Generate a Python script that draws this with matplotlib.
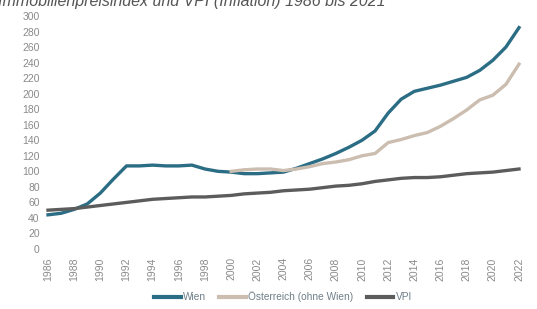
import numpy as np
import matplotlib
matplotlib.use("Agg")
import matplotlib.pyplot as plt

years = np.arange(1986, 2023)

wien = [44, 46, 51, 58, 72, 90, 107, 107, 108, 107, 107, 108, 103, 100,
        99, 97, 97, 98, 99, 104, 110, 116, 123, 131, 140, 152, 175, 193,
        203, 207, 211, 216, 221, 230, 243, 260, 285]

oe_years = np.arange(2000, 2023)
oesterreich = [100, 102, 103, 103, 101, 103, 106, 110, 112, 115, 120, 123,
               137, 141, 146, 150, 158, 168, 179, 192, 198, 212, 238]

vpi = [50, 51, 52, 54, 56, 58, 60, 62, 64, 65, 66, 67, 67, 68, 69, 71, 72,
       73, 75, 76, 77, 79, 81, 82, 84, 87, 89, 91, 92, 92, 93, 95, 97, 98,
       99, 101, 103]

xticks = np.arange(1986, 2023, 2)
yticks = np.arange(0, 301, 20)

plt.rcParams['font.family'] = ['Liberation Sans', 'DejaVu Sans']

fig = plt.figure(figsize=(5.37, 3.09), dpi=100)
ax = fig.add_axes([48/537, 60/309, 471/537, 233/309])

ax.plot(years, wien, color='#2b6d84', lw=2.4, label='Wien', clip_on=False)
ax.plot(oe_years, oesterreich, color='#cbbdb0', lw=2.4, label='Österreich (ohne Wien)', clip_on=False)
ax.plot(years, vpi, color='#5c5c5c', lw=2.4, label='VPI', clip_on=False)

ax.set_xlim(1986, 2022)
ax.set_ylim(0, 300)
ax.set_xticks(xticks)
ax.set_xticklabels([str(y) for y in xticks], rotation=90)
ax.set_yticks(yticks)
ax.tick_params(length=0, labelsize=7.5, colors='#8a8a8a', pad=6)
for s in ax.spines.values():
    s.set_visible(False)

leg = fig.legend(loc='center', bbox_to_anchor=(0.527, 12/309),
                 ncol=3, frameon=False, fontsize=7.3, handlelength=2.6,
                 handletextpad=0.25, columnspacing=1.3)
for line in leg.get_lines():
    line.set_linewidth(3)
for t in leg.get_texts():
    t.set_color('#6f7f88')

fig.text(-0.004, 1 - 6/309, "Immobilienpreisindex und VPI (Inflation) 1986 bis 2021",
         fontsize=11.5, style='italic', color='#555555', va='baseline')

fig.savefig("out.png", dpi=100)
